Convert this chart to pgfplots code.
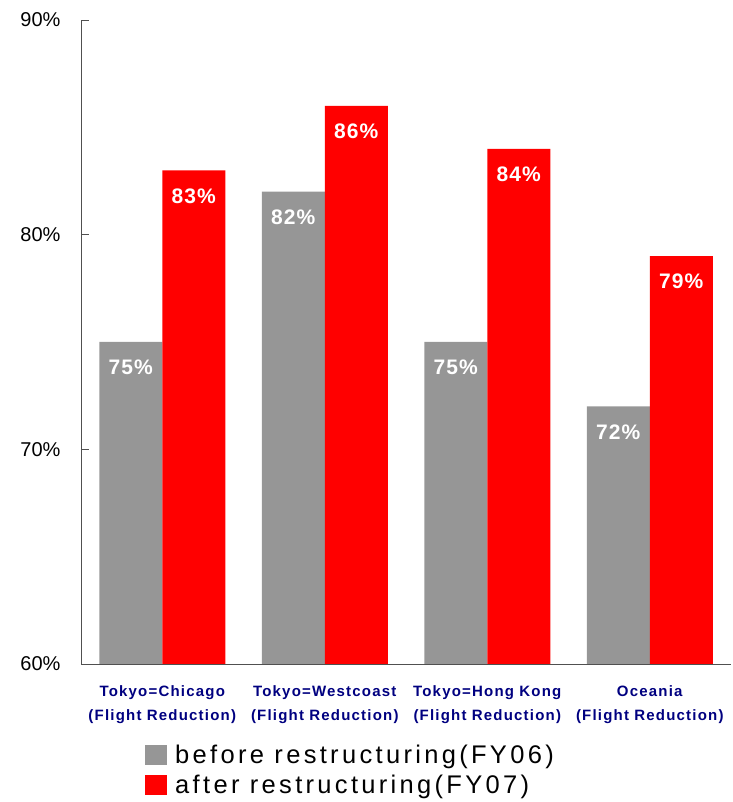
\documentclass[border=0pt]{standalone}
\usepackage{pgfplots}
\pgfplotsset{compat=1.18}
\usepackage{fontspec}
\setmainfont{Liberation Sans}
\newfontfamily\catfont[LetterSpace=8]{Liberation Sans}
\newfontfamily\legfont[LetterSpace=13]{Liberation Sans}
\newfontfamily\valfont[LetterSpace=5]{Liberation Sans}
\definecolor{barGray}{RGB}{150,150,150}
\definecolor{barRed}{RGB}{255,0,0}
\definecolor{catNavy}{RGB}{0,0,128}
\definecolor{axisGray}{RGB}{80,80,80}

\begin{document}
\begin{tikzpicture}[x=1pt,y=1pt]
\useasboundingbox (0,0) rectangle (732,802);
\begin{axis}[
  at={(81pt,138pt)}, anchor=south west,
  width=650pt, height=644pt, scale only axis,
  xmin=-0.5, xmax=3.5, ymin=60, ymax=90,
  axis x line=bottom, axis y line=left,
  axis line style={-, draw=axisGray, line width=0.9pt},
  /pgf/number format/assume math mode=true,
  ytick={60,70,80,90}, yticklabels={60\%,70\%,80\%,90\%},
  yticklabel style={font=\fontsize{20}{24}\selectfont, xshift=-17pt},
  tick align=inside, major tick length=8pt,
  ytick style={draw=axisGray, line width=0.9pt},
  xtick={0,1,2,3}, xtick style={draw=none},
  xticklabels={{Tokyo=Chicago\\(Flight Reduction)},
               {Tokyo=Westcoast\\(Flight Reduction)},
               {Tokyo=Hong Kong\\(Flight Reduction)},
               {Oceania\\(Flight Reduction)}},
  xticklabel style={align=center, font=\catfont\bfseries\fontsize{15}{24}\selectfont,
    text=catNavy, inner sep=0pt, anchor=north, yshift=-13pt},
  ybar=0pt, bar width=63pt,
  nodes near coords={\pgfmathprintnumber{\pgfplotspointmeta}\%},
  every node near coord/.append style={anchor=north, yshift=-18pt, inner sep=0pt,
    text=white, font=\valfont\bfseries\fontsize{21}{26}\selectfont},
  legend style={at={(0.0985,-0.1242)}, anchor=north west, draw=none, fill=none,
    inner sep=0pt, column sep=8pt, row sep=5pt,
    font=\legfont\fontsize{25.5}{30}\selectfont,
    nodes={inner sep=0pt, text height=19pt, text depth=6pt}},
  legend cell align=left,
]
\addplot[fill=barGray, draw=none,
  legend image code/.code={\fill[barGray] (0pt,-8.5pt) rectangle (22pt,11.5pt);}]
  coordinates {(0,75) (1,82) (2,75) (3,72)};
\addlegendentry{before restructuring(FY06)}
\addplot[fill=barRed, draw=none,
  legend image code/.code={\fill[barRed] (0pt,-8.5pt) rectangle (22pt,11.5pt);}]
  coordinates {(0,83) (1,86) (2,84) (3,79)};
\addlegendentry{after restructuring(FY07)}
\end{axis}
\end{tikzpicture}
\end{document}
